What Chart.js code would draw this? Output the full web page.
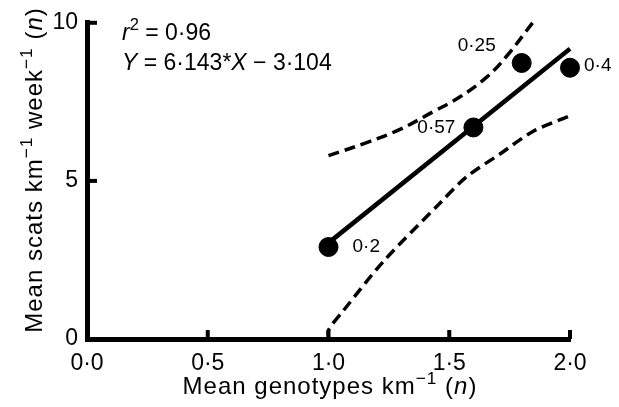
<!DOCTYPE html>
<html>
<head>
<meta charset="utf-8">
<script src="https://cdn.jsdelivr.net/npm/chart.js@4/dist/chart.umd.min.js"></script>
<style>
  html, body { margin: 0; padding: 0; background: #fff; }
  canvas { display: block; }
</style>
</head>
<body>
<canvas id="myChart" width="619" height="407"></canvas>
<script>
// data
const genotypes = [1.0, 1.6, 1.8, 2.0];
const scats = [2.91, 6.69, 8.73, 8.58];
const pointLabels = ['0·2', '0·57', '0·25', '0·4'];

const fitX = [1.0, 2.0];
const fitY = [3.04, 9.18];

const upperX = [1.0, 1.158, 1.296, 1.434, 1.545, 1.655, 1.738, 1.848];
const upperY = [5.80, 6.21, 6.63, 7.19, 7.66, 8.28, 8.95, 10.03];
const lowerX = [1.0, 1.0, 1.062, 1.227, 1.462, 1.572, 1.71, 1.848, 1.993];
const lowerY = [0.0, 0.28, 0.90, 2.45, 4.30, 5.13, 5.85, 6.57, 7.04];

const xTickLabels = ['0·0', '0·5', '1·0', '1·5', '2·0'];
const yTickLabels = ['0', '5', '10'];

const FONT = '"Liberation Sans", Arial, Helvetica, sans-serif';

function pts(xs, ys) {
  return xs.map((x, i) => ({ x: x, y: ys[i] }));
}

// text pieces: {t, it, sup}
function setFont(ctx, p, size) {
  const s = p.sup ? size * 0.72 : size;
  ctx.font = (p.it ? 'italic ' : '') + s + 'px ' + FONT;
}
function richWidth(ctx, parts, size) {
  let w = 0;
  parts.forEach(p => { setFont(ctx, p, size); w += ctx.measureText(p.t).width; });
  return w;
}
function richText(ctx, parts, x, y, size, align) {
  let cx = x;
  if (align === 'center') cx = x - richWidth(ctx, parts, size) / 2;
  ctx.textBaseline = 'alphabetic';
  ctx.textAlign = 'left';
  parts.forEach(p => {
    setFont(ctx, p, size);
    ctx.fillText(p.t, cx, p.sup ? y - size * 0.42 : y);
    cx += ctx.measureText(p.t).width;
  });
}

const labelOffsets = [[24, 0, 'left'], [-18, 0, 'right'], [-64, -17, 'left'], [14, -2, 'left']];

const extras = {
  id: 'extras',
  afterDatasetsDraw(chart) {
    const ctx = chart.ctx;
    const xs = chart.scales.x, ys = chart.scales.y;
    const x0 = xs.getPixelForValue(0), y0 = ys.getPixelForValue(0);
    ctx.save();
    ctx.fillStyle = '#000';
    ctx.strokeStyle = '#000';

    // inward tick marks
    ctx.lineWidth = 4;
    ctx.lineCap = 'butt';
    [0.5, 1.0, 1.5, 2.0].forEach(v => {
      const px = xs.getPixelForValue(v);
      ctx.beginPath(); ctx.moveTo(px, y0); ctx.lineTo(px, y0 - 9); ctx.stroke();
    });
    [5, 10].forEach(v => {
      const py = ys.getPixelForValue(v);
      ctx.beginPath(); ctx.moveTo(x0, py); ctx.lineTo(x0 + 10, py); ctx.stroke();
    });

    // point labels
    ctx.font = '19px ' + FONT;
    ctx.textBaseline = 'middle';
    const meta = chart.getDatasetMeta(0);
    meta.data.forEach((el, i) => {
      const o = labelOffsets[i];
      ctx.textAlign = o[2];
      ctx.fillText(pointLabels[i], el.x + o[0], el.y + o[1]);
    });

    // regression annotation
    richText(ctx, [{ t: 'r', it: true }, { t: '2', sup: true }, { t: ' = 0·96' }], 122, 40, 23);
    richText(ctx, [{ t: 'Y', it: true }, { t: ' = 6·143*' }, { t: 'X', it: true }, { t: ' − 3·104' }], 122, 70, 23);

    // axis titles
    ctx.letterSpacing = '1px';
    richText(ctx, [{ t: 'Mean genotypes km' }, { t: '−1', sup: true }, { t: ' (' }, { t: 'n', it: true }, { t: ')' }],
      330, 394, 24, 'center');
    ctx.translate(42, 170);
    ctx.rotate(-Math.PI / 2);
    richText(ctx, [{ t: 'Mean scats km' }, { t: '−1', sup: true }, { t: ' week' }, { t: '−1', sup: true }, { t: ' (' }, { t: 'n', it: true }, { t: ')' }],
      0, 0, 24, 'center');
    ctx.restore();
  }
};

const ctx = document.getElementById('myChart').getContext('2d');
const myChart = new Chart(ctx, {
  type: 'scatter',
  data: {
    datasets: [{
      label: 'sites',
      data: pts(genotypes, scats),
      backgroundColor: '#000',
      borderColor: '#000',
      pointRadius: 9.5,
      pointHoverRadius: 9.5,
      clip: false
    }, {
      label: 'fit',
      data: pts(fitX, fitY),
      showLine: true,
      borderColor: '#000',
      borderWidth: 4.5,
      pointRadius: 0,
      clip: false
    }, {
      label: 'upper',
      data: pts(upperX, upperY),
      showLine: true,
      borderColor: '#000',
      borderWidth: 3.5,
      borderDash: [11, 6],
      tension: 0.4,
      pointRadius: 0,
      clip: false
    }, {
      label: 'lower',
      data: pts(lowerX, lowerY),
      showLine: true,
      borderColor: '#000',
      borderWidth: 3.5,
      borderDash: [11, 6],
      tension: 0.3,
      pointRadius: 0,
      clip: false
    }]
  },
  options: {
    responsive: false,
    animation: false,
    layout: { padding: { left: 0, top: 16, right: 49, bottom: 0 } },
    plugins: { legend: { display: false }, tooltip: { enabled: false } },
    scales: {
      x: {
        type: 'linear',
        min: 0, max: 2,
        grid: { display: false, drawTicks: false },
        border: { display: true, color: '#000', width: 5 },
        ticks: {
          stepSize: 0.5,
          padding: 11,
          color: '#000',
          font: { family: FONT, size: 23 },
          callback: (v, i) => xTickLabels[i]
        },
        afterFit: s => { s.height = 68; }
      },
      y: {
        type: 'linear',
        min: 0, max: 10,
        grid: { display: false, drawTicks: false },
        border: { display: true, color: '#000', width: 5 },
        ticks: {
          stepSize: 5,
          padding: 9,
          color: '#000',
          font: { family: FONT, size: 23 },
          callback: (v, i) => yTickLabels[i]
        },
        afterFit: s => { s.width = 87; }
      }
    }
  },
  plugins: [extras]
});
</script>
</body>
</html>
